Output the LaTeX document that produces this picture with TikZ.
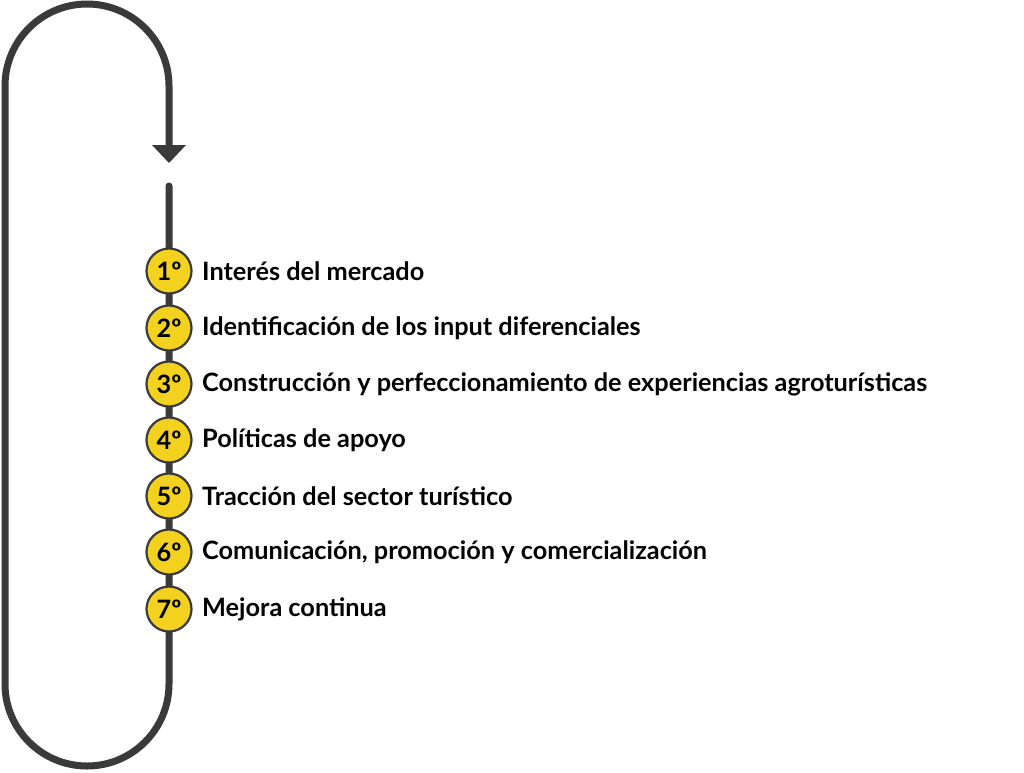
\documentclass[tikz,border=0pt]{standalone}
\usepackage{fontspec}
\setmainfont{Lato}
\usetikzlibrary{arrows.meta}
\definecolor{linegray}{HTML}{3A3A3A}
\definecolor{stepyellow}{HTML}{F2D21E}
\begin{document}
\begin{tikzpicture}[x=1pt,y=1pt,
  loopline/.style={draw=linegray,line width=7pt},
  stepdot/.style={circle,draw=linegray,line width=2.2pt,fill=stepyellow,minimum size=45pt,inner sep=0pt,font=\fontsize{25.3}{30}\selectfont\bfseries,text=black},
  steplabel/.style={anchor=west,inner sep=0pt,font=\fontsize{25.3}{30}\selectfont\bfseries,text=black}]
\useasboundingbox (0,0) rectangle (1024,-772);
\coordinate (start) at (169,-186);
\coordinate (tip) at (169,-163);
\draw[loopline,line cap=round] (start) -- (169,-684) arc[start angle=0,end angle=-180,radius=82] -- (5,-86) arc[start angle=180,end angle=0,radius=82] -- (169,-150);
\draw[draw=none,fill=linegray] (152,-145) -- (186,-145) -- (tip) -- cycle;
\foreach \n/\y/\t in {1/271/Interés del mercado,
  2/328/Identificación de los input diferenciales,
  3/384/Construcción y perfeccionamiento de experiencias agroturísticas,
  4/440/Políticas de apoyo,
  5/496/Tracción del sector turístico,
  6/552/Comunicación{,} promoción y comercialización,
  7/609/Mejora continua}{
  \node[stepdot] (c\n) at (169,-\y) {\n º};
  \node[steplabel] (t\n) at (202,-\y) {\t};
}
\end{tikzpicture}
\end{document}
